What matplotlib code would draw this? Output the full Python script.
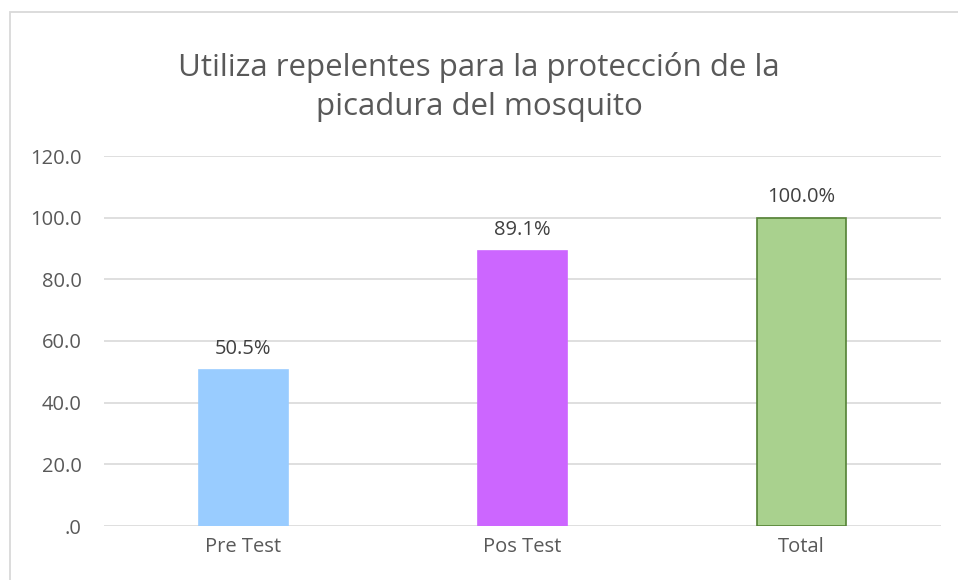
import matplotlib.pyplot as plt
from matplotlib.patches import Rectangle

# Data
categories = ["Pre Test", "Pos Test", "Total"]
values = [50.5, 89.1, 100.0]
labels = ["50.5%", "89.1%", "100.0%"]
colors = ["#99CCFF", "#CC66FF", "#A9D18E"]
edges = ["#99CCFF", "#CC66FF", "#548235"]
yticks = [0, 20, 40, 60, 80, 100, 120]
ytick_labels = [".0", "20.0", "40.0", "60.0", "80.0", "100.0", "120.0"]

plt.rcParams['font.family'] = ['Open Sans', 'DejaVu Sans']
txt = "#595959"

fig = plt.figure(figsize=(9.58, 5.8), dpi=100)
# chart border (left and top visible, rest runs off the image)
fig.patches.append(Rectangle((10 / 958, -0.1), 1.2, 1.1 - 12 / 580,
                             transform=fig.transFigure, fill=False,
                             edgecolor="#D9D9D9", linewidth=1.3))

ax = fig.add_axes([104 / 958, 1 - 526 / 580, 837 / 958, 370 / 580])
x = range(len(categories))
ax.bar(x, values, width=0.316, color=colors, edgecolor=edges, linewidth=1.2, zorder=3)
for i, v in enumerate(values):
    ax.text(i, v + 3.5, labels[i], ha="center", va="bottom", fontsize=14.5, color="#404040")

ax.set_xlim(-0.5, 2.5)
ax.set_ylim(0, 120)
ax.set_yticks(yticks)
ax.set_yticklabels(ytick_labels, fontsize=14.5, color=txt)
ax.set_xticks(list(x))
ax.set_xticklabels(categories, fontsize=14.5, color=txt)
ax.tick_params(axis="both", length=0)
ax.tick_params(axis="y", pad=16)
ax.tick_params(axis="x", pad=8)
ax.grid(axis="y", color="#D9D9D9", linewidth=1.2, zorder=0)
for s in ax.spines.values():
    s.set_visible(False)

fig.text(0.5, 1 - 87 / 580, "Utiliza repelentes para la protección de la\npicadura del mosquito",
         ha="center", va="center", fontsize=22.5, color=txt, linespacing=1.35)

fig.savefig("out.png", dpi=100)
